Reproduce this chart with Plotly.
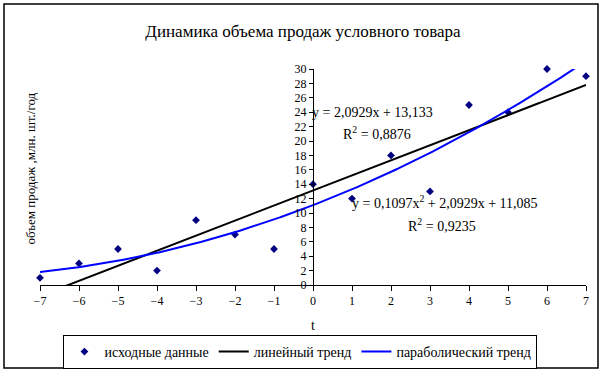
import numpy as np
import plotly.graph_objects as go

t = [-7, -6, -5, -4, -3, -2, -1, 0, 1, 2, 3, 4, 5, 6, 7]
sales = [1, 3, 5, 2, 9, 7, 5, 14, 12, 18, 13, 25, 24, 30, 29]
x_ticks = list(range(-7, 8))
y_ticks = list(range(0, 31, 2))

lin = np.polyfit(t, sales, 1)
par = np.polyfit(t, sales, 2)
xs = np.linspace(-7, 7, 300)
y_lin = np.polyval(lin, xs)
y_par = np.polyval(par, xs)

FONT = "Liberation Serif"

fig = go.Figure()
fig.add_trace(go.Scatter(x=t, y=sales, mode="markers", name="исходные данные",
                         marker=dict(symbol="diamond", size=6, color="#000080"),
                         cliponaxis=False))
fig.add_trace(go.Scatter(x=xs, y=y_lin, mode="lines", name="линейный тренд",
                         line=dict(color="black", width=2)))
fig.add_trace(go.Scatter(x=xs, y=y_par, mode="lines", name="параболический тренд",
                         line=dict(color="#0000FF", width=2)))

fig.update_layout(
    width=604, height=373,
    margin=dict(l=40, r=18, t=69, b=88, autoexpand=False),
    paper_bgcolor="white", plot_bgcolor="white",
    font=dict(family=FONT, size=12, color="black"),
    title=dict(text="Динамика объема продаж условного товара", x=303 / 604, xanchor="center",
               y=1 - 31 / 373, yanchor="middle", font=dict(family=FONT, size=17, color="black")),
    showlegend=True,
    legend=dict(orientation="h", x=0.477, y=-0.31, xanchor="center", yanchor="middle",
                bordercolor="black", borderwidth=1, font=dict(family=FONT, size=14),
                itemwidth=30, tracegroupgap=0),
    xaxis=dict(range=[-7, 7], tickvals=x_ticks, showgrid=False, zeroline=False,
               showline=True, linecolor="black", linewidth=1, ticks="outside",
               ticklen=5, tickcolor="black",
               tickfont=dict(family=FONT, size=12)),
    yaxis=dict(range=[0, 30], tickvals=y_ticks, showgrid=False, zeroline=False,
               showline=True, linecolor="black", linewidth=1, ticks="outside",
               ticklen=4, tickcolor="black", anchor="free", position=0.5,
               tickfont=dict(family=FONT, size=12)),
)

fig.add_shape(type="rect", xref="paper", yref="paper",
              x0=(4 - 40) / 546, x1=(598 - 40) / 546,
              y0=(285 - 368) / 216, y1=(285 - 4) / 216,
              line=dict(color="black", width=1.5), layer="below")

ann_font = dict(family=FONT, size=14, color="black")
fig.add_annotation(x=1.52, y=23.9, xref="x", yref="y", showarrow=False,
                   text="y = 2,0929x + 13,133", font=ann_font)
fig.add_annotation(x=1.64, y=21.1, xref="x", yref="y", showarrow=False,
                   text="R<sup>2</sup> = 0,8876", font=ann_font)
fig.add_annotation(x=3.38, y=11.5, xref="x", yref="y", showarrow=False,
                   text="y = 0,1097x<sup>2</sup> + 2,0929x + 11,085", font=ann_font)
fig.add_annotation(x=3.3, y=8.3, xref="x", yref="y", showarrow=False,
                   text="R<sup>2</sup> = 0,9235", font=ann_font)
fig.add_annotation(x=(20 - 40) / 546, y=(285 - 169) / 216, xref="paper", yref="paper",
                   showarrow=False, textangle=-90, text="объем продаж ,млн. шт./год",
                   font=dict(family=FONT, size=13, color="black"))
fig.add_annotation(x=0, y=(285 - 325) / 216, xref="x", yref="paper", showarrow=False,
                   xanchor="center", yanchor="middle",
                   text="t", font=dict(family=FONT, size=14, color="black"))

fig.write_html("out.html", config={"displayModeBar": False},
               post_script="document.body.style.margin='0';document.body.style.overflow='hidden';")
